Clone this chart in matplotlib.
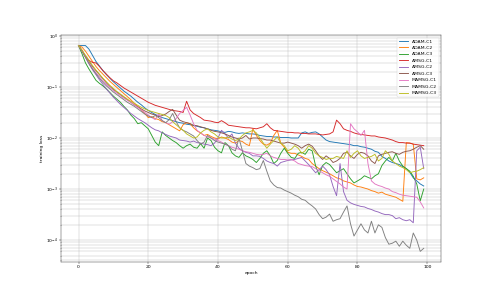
import numpy as np
import matplotlib
matplotlib.use("Agg")
from matplotlib import pyplot as plt

# log10 of the training loss, epochs 0..99
epochs = np.arange(100)

adam_c1 = [-0.19, -0.19, -0.19, -0.26, -0.38, -0.50, -0.59, -0.68, -0.76, -0.83,
           -0.90, -0.96, -1.02, -1.08, -1.13, -1.18, -1.24, -1.30, -1.35, -1.41,
           -1.46, -1.50, -1.54, -1.57, -1.60, -1.62, -1.64, -1.66, -1.68, -1.70,
           -1.71, -1.73, -1.74, -1.76, -1.77, -1.79, -1.80, -1.82, -1.84, -1.85,
           -1.86, -1.88, -1.89, -1.87, -1.88, -1.90, -1.91, -1.90, -1.91, -1.92,
           -1.92, -1.93, -1.95, -1.96, -1.97, -1.97, -1.98, -1.98, -1.99, -1.99,
           -1.99, -2.00, -2.00, -2.00, -1.90, -1.88, -1.91, -1.89, -1.88, -1.92,
           -1.98, -2.04, -2.07, -2.08, -2.09, -2.10, -2.11, -2.12, -2.13, -2.15,
           -2.15, -2.17, -2.18, -2.20, -2.22, -2.26, -2.28, -2.36, -2.40, -2.45,
           -2.48, -2.50, -2.52, -2.56, -2.60, -2.67, -2.78, -2.84, -2.90, -2.94]

adam_c2 = [-0.19, -0.22, -0.30, -0.40, -0.50, -0.60, -0.68, -0.75, -0.82, -0.89,
           -0.95, -1.01, -1.07, -1.13, -1.19, -1.25, -1.32, -1.38, -1.45, -1.52,
           -1.60, -1.58, -1.62, -1.64, -1.68, -1.70, -1.74, -1.78, -1.82, -1.86,
           -1.74, -1.70, -1.72, -1.80, -1.86, -1.90, -1.95, -1.93, -1.97, -2.00,
           -2.02, -1.98, -2.00, -2.03, -2.08, -2.10, -2.05, -2.07, -2.12, -2.15,
           -1.82, -1.95, -2.05, -2.12, -2.14, -2.10, -1.95, -1.85, -2.10, -2.18,
           -2.28, -2.30, -2.30, -2.33, -2.36, -2.40, -2.42, -2.50, -2.55, -2.60,
           -2.64, -2.67, -2.70, -2.74, -2.78, -2.80, -2.84, -2.86, -2.88, -2.92,
           -2.95, -2.96, -2.98, -3.00, -3.03, -3.05, -3.08, -3.06, -3.10, -3.12,
           -3.14, -3.16, -3.20, -3.24, -2.09, -2.10, -2.12, -2.80, -2.82, -2.78]

adam_c3 = [-0.19, -0.35, -0.53, -0.65, -0.76, -0.87, -0.93, -0.98, -1.04, -1.11,
           -1.18, -1.24, -1.30, -1.38, -1.45, -1.55, -1.62, -1.72, -1.70, -1.76,
           -1.82, -1.95, -2.08, -2.15, -1.88, -1.95, -2.00, -2.05, -2.09, -2.15,
           -2.20, -2.15, -2.12, -2.18, -2.20, -2.11, -2.20, -2.00, -2.05, -2.18,
           -2.25, -2.29, -2.09, -2.15, -2.29, -2.35, -2.38, -2.29, -2.35, -2.38,
           -2.42, -2.48, -2.40, -2.30, -2.25, -2.35, -2.50, -2.44, -2.30, -2.20,
           -2.30, -2.38, -2.40, -2.30, -2.28, -2.32, -2.22, -2.25, -2.55, -2.72,
           -2.54, -2.48, -2.52, -2.60, -2.68, -2.64, -2.60, -2.70, -2.80, -2.88,
           -2.84, -2.80, -2.74, -2.77, -2.80, -2.74, -2.70, -2.54, -2.45, -2.38,
           -2.45, -2.30, -2.45, -2.55, -2.60, -2.65, -2.75, -2.90, -3.23, -3.00]

amsg_c1 = [-0.19, -0.28, -0.40, -0.48, -0.52, -0.53, -0.60, -0.68, -0.75, -0.82,
           -0.88, -0.92, -0.97, -1.02, -1.06, -1.10, -1.14, -1.18, -1.22, -1.26,
           -1.30, -1.33, -1.36, -1.38, -1.40, -1.42, -1.44, -1.46, -1.47, -1.48,
           -1.50, -1.28, -1.45, -1.52, -1.56, -1.60, -1.65, -1.66, -1.67, -1.69,
           -1.70, -1.66, -1.70, -1.75, -1.76, -1.77, -1.78, -1.79, -1.80, -1.80,
           -1.81, -1.82, -1.80, -1.78, -1.72, -1.80, -1.85, -1.86, -1.87, -1.88,
           -1.89, -1.89, -1.90, -1.90, -1.91, -1.91, -1.92, -1.92, -1.92, -1.93,
           -1.94, -1.93, -1.92, -1.88, -1.65, -1.72, -1.82, -1.85, -1.87, -1.90,
           -1.92, -1.93, -1.94, -1.95, -1.96, -1.96, -1.98, -1.99, -2.00, -2.02,
           -2.04, -2.07, -2.09, -2.09, -2.10, -2.10, -2.12, -2.13, -2.14, -2.15]

amsg_c2 = [-0.19, -0.30, -0.42, -0.55, -0.66, -0.76, -0.86, -0.95, -1.04, -1.12,
           -1.20, -1.27, -1.34, -1.40, -1.46, -1.52, -1.57, -1.62, -1.66, -1.70,
           -1.75, -1.80, -1.84, -1.86, -1.90, -1.93, -1.96, -1.98, -2.00, -2.04,
           -2.05, -2.06, -2.08, -2.06, -2.09, -2.10, -2.12, -2.13, -2.15, -2.10,
           -2.00, -1.85, -1.92, -2.00, -1.92, -2.10, -2.20, -2.25, -2.28, -2.30,
           -2.35, -2.35, -2.36, -2.40, -2.45, -2.48, -2.50, -2.55, -2.48, -2.46,
           -2.44, -2.43, -2.42, -2.40, -2.38, -2.45, -2.52, -2.60, -2.68, -2.62,
           -2.55, -2.62, -2.72, -2.95, -3.13, -2.50, -3.05, -3.22, -3.27, -3.30,
           -3.32, -3.34, -3.35, -3.38, -3.40, -3.43, -3.45, -3.48, -3.50, -3.50,
           -3.52, -3.58, -3.56, -3.60, -3.62, -3.60, -3.66, -2.25, -2.18, -2.60]

amsg_c3 = [-0.19, -0.30, -0.40, -0.50, -0.60, -0.68, -0.76, -0.84, -0.92, -0.99,
           -1.05, -1.10, -1.15, -1.20, -1.25, -1.30, -1.35, -1.39, -1.43, -1.47,
           -1.50, -1.53, -1.55, -1.58, -1.56, -1.53, -1.48, -1.44, -1.55, -1.65,
           -1.68, -1.70, -1.72, -1.75, -1.76, -1.78, -1.80, -1.82, -1.85, -1.87,
           -1.88, -1.90, -1.92, -1.95, -1.98, -2.00, -2.02, -2.00, -1.95, -2.02,
           -2.00, -2.00, -2.01, -2.02, -2.04, -2.04, -2.06, -2.08, -2.10, -2.10,
           -2.08, -2.10, -2.12, -2.15, -2.20, -2.15, -2.12, -2.16, -2.25, -2.35,
           -2.42, -2.35, -2.40, -2.48, -2.45, -2.40, -2.30, -2.28, -2.35, -2.40,
           -2.32, -2.28, -2.30, -2.35, -2.45, -2.50, -2.35, -2.32, -2.30, -2.28,
           -2.27, -2.30, -2.32, -2.28, -2.26, -2.25, -2.22, -2.18, -2.15, -2.22]

mamsg_c1 = [-0.19, -0.30, -0.42, -0.53, -0.63, -0.72, -0.80, -0.88, -0.95, -1.01,
            -1.07, -1.12, -1.17, -1.22, -1.26, -1.30, -1.35, -1.40, -1.45, -1.50,
            -1.55, -1.60, -1.64, -1.52, -1.66, -1.70, -1.73, -1.68, -1.62, -1.52,
            -1.46, -1.40, -1.55, -1.72, -1.85, -1.90, -1.95, -1.98, -2.00, -2.02,
            -2.05, -2.08, -2.12, -2.15, -2.18, -2.20, -2.22, -2.25, -2.27, -2.28,
            -2.30, -2.32, -2.33, -2.32, -2.30, -2.35, -2.38, -2.40, -2.42, -2.42,
            -2.43, -2.42, -2.45, -2.50, -2.52, -2.54, -2.55, -2.56, -2.60, -2.64,
            -2.68, -2.72, -2.75, -2.80, -2.85, -2.90, -2.96, -3.00, -1.72, -1.82,
            -1.88, -1.95, -1.85, -2.50, -2.84, -2.90, -2.93, -2.95, -2.98, -3.00,
            -3.05, -3.07, -3.10, -3.12, -3.13, -3.14, -3.15, -3.16, -3.25, -3.37]

mamsg_c2 = [-0.19, -0.30, -0.42, -0.54, -0.65, -0.74, -0.83, -0.91, -0.98, -1.04,
            -1.10, -1.15, -1.20, -1.25, -1.30, -1.34, -1.38, -1.43, -1.48, -1.53,
            -1.57, -1.60, -1.56, -1.60, -1.66, -1.70, -1.64, -1.52, -1.68, -1.80,
            -1.85, -1.88, -1.92, -1.96, -2.05, -2.12, -2.08, -1.95, -2.00, -2.05,
            -2.08, -2.10, -2.12, -2.15, -2.22, -2.25, -2.00, -2.25, -2.50, -2.55,
            -2.58, -2.62, -2.60, -2.44, -2.65, -2.84, -2.92, -2.97, -2.98, -3.02,
            -3.05, -3.08, -3.12, -3.15, -3.20, -3.22, -3.28, -3.33, -3.39, -3.50,
            -3.58, -3.55, -3.49, -3.63, -3.60, -3.58, -3.45, -3.33, -3.68, -3.92,
            -3.80, -3.68, -3.80, -3.86, -3.63, -3.86, -3.70, -3.75, -3.95, -4.08,
            -4.06, -4.02, -4.12, -4.02, -4.10, -4.16, -3.86, -4.00, -4.22, -4.16]

mamsg_c3 = [-0.19, -0.28, -0.38, -0.48, -0.58, -0.67, -0.75, -0.83, -0.90, -0.97,
            -1.03, -1.09, -1.14, -1.19, -1.24, -1.28, -1.32, -1.36, -1.40, -1.43,
            -1.46, -1.48, -1.50, -1.52, -1.54, -1.56, -1.60, -1.68, -1.74, -1.80,
            -1.85, -1.92, -1.96, -2.00, -1.98, -1.90, -1.85, -1.82, -1.88, -1.92,
            -1.98, -2.00, -2.00, -1.98, -2.02, -2.05, -2.02, -1.95, -1.90, -1.88,
            -1.85, -1.90, -2.00, -2.10, -2.20, -2.12, -2.05, -1.98, -2.10, -2.15,
            -2.25, -2.22, -2.15, -2.20, -2.30, -2.25, -2.15, -2.20, -2.30, -2.35,
            -2.38, -2.42, -2.40, -2.40, -2.36, -2.38, -2.40, -2.25, -2.38, -2.30,
            -2.25, -2.35, -2.40, -2.38, -2.36, -2.32, -2.45, -2.40, -2.25, -2.32,
            -2.45, -2.50, -2.55, -2.58, -2.62, -2.68, -2.66, -2.65, -2.62, -2.58]

labels = ['ADAM-C1', 'ADAM-C2', 'ADAM-C3', 'AMSG-C1', 'AMSG-C2', 'AMSG-C3',
          'MAMSG-C1', 'MAMSG-C2', 'MAMSG-C3']
series = [adam_c1, adam_c2, adam_c3, amsg_c1, amsg_c2, amsg_c3,
          mamsg_c1, mamsg_c2, mamsg_c3]

fig = plt.figure(figsize=(15, 9))
for lab, s in zip(labels, series):
    plt.plot(epochs, 10 ** np.array(s), label=lab, lw=2)  # back from log10

plt.yscale('log')
plt.xlabel('epoch')
plt.ylabel('training loss')
plt.grid(True, which='both')
plt.legend(loc='upper right')
plt.savefig('out.png', dpi=490 / 15)
